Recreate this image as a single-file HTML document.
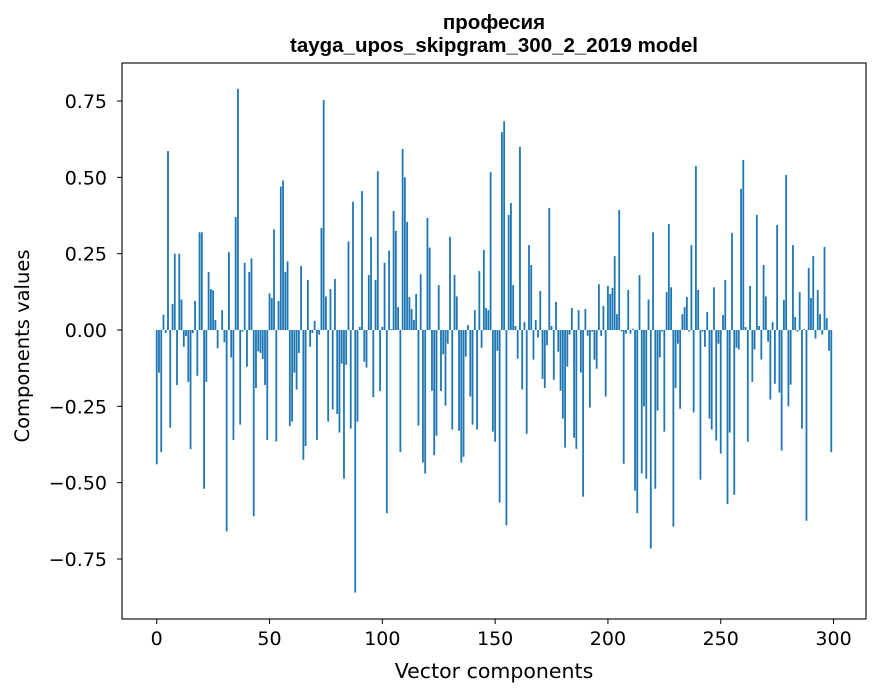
<!DOCTYPE html>
<html><head><meta charset="utf-8"><style>
body{margin:0;background:#fff;}
svg{display:block;font-family:"DejaVu Sans","Liberation Sans",sans-serif;}
</style></head><body>
<svg id="chart" width="880" height="696">
<text x="494" y="29" text-anchor="middle" font-size="20.5" font-weight="bold" font-family="Liberation Sans, sans-serif">професия</text>
<text x="494" y="52" text-anchor="middle" font-size="20.5" font-weight="bold" font-family="Liberation Sans, sans-serif">tayga_upos_skipgram_300_2_2019 model</text>
<g id="bars"></g>
<g id="axes"></g>
<text x="494" y="678" text-anchor="middle" font-size="20.5">Vector components</text>
<text transform="translate(29,346) rotate(-90)" text-anchor="middle" font-size="19.5">Components values</text>
</svg>
<script>
const values = [
-0.44,-0.14,-0.40,0.05,-0.01,0.586,-0.32,0.085,0.25,-0.18,
0.25,0.10,-0.055,-0.02,-0.17,-0.39,-0.01,0.095,-0.15,0.32,
0.32,-0.52,-0.17,0.19,0.134,0.13,0.033,-0.06,0.0,0.065,
-0.04,-0.66,0.255,-0.09,-0.36,0.37,0.79,-0.31,-0.005,0.22,
-0.12,0.19,0.235,-0.61,-0.19,-0.07,-0.075,-0.095,-0.18,-0.36,
0.12,0.105,0.33,-0.365,0.095,0.47,0.49,0.19,0.225,-0.315,
-0.30,-0.14,-0.195,-0.075,0.21,-0.425,-0.38,0.164,-0.055,-0.01,
0.03,-0.36,-0.015,0.334,0.753,0.11,-0.30,0.134,-0.26,0.167,
-0.275,-0.336,-0.11,-0.487,-0.114,0.29,-0.323,0.42,-0.86,-0.30,
0.01,0.455,-0.104,-0.123,0.18,0.305,-0.22,0.164,0.52,-0.20,
0.01,0.22,-0.60,0.26,0.003,0.39,0.325,0.075,-0.40,0.593,
0.50,0.354,0.108,0.069,0.033,0.118,-0.313,0.183,-0.434,-0.47,
0.367,0.27,-0.199,-0.41,-0.346,0.147,-0.20,-0.08,-0.248,-0.045,
0.305,-0.326,0.18,0.11,-0.33,-0.434,-0.415,-0.087,0.016,-0.218,
-0.31,0.065,-0.326,0.193,-0.058,0.262,0.072,0.065,0.517,-0.333,
-0.366,-0.068,-0.565,0.648,0.684,-0.64,0.377,0.416,0.147,0.013,
-0.094,0.60,-0.195,0.026,-0.34,0.278,0.213,-0.097,0.033,-0.025,
0.128,-0.16,-0.19,-0.05,0.40,0.013,-0.163,0.092,-0.071,-0.199,
-0.29,-0.385,-0.12,-0.015,0.072,-0.353,-0.389,0.065,-0.14,-0.546,
0.069,-0.019,-0.254,-0.005,-0.097,-0.127,0.15,-0.019,0.079,-0.218,
0.144,0.118,0.138,0.242,0.052,0.393,-0.005,-0.438,-0.012,0.131,
-0.012,0.004,-0.526,-0.60,0.18,-0.47,-0.25,-0.487,0.10,-0.716,
0.32,-0.52,-0.264,-0.09,-0.005,-0.333,0.124,0.347,0.14,-0.644,
-0.19,-0.045,-0.258,0.052,0.075,0.108,-0.005,0.278,-0.27,0.537,
0.131,-0.49,-0.005,-0.055,0.059,-0.29,-0.326,0.14,-0.362,-0.045,
-0.405,0.049,0.164,-0.57,-0.336,0.318,-0.54,-0.058,-0.064,0.462,
0.557,0.01,-0.366,0.144,-0.17,-0.064,0.377,0.013,-0.097,0.213,
0.11,-0.038,-0.228,0.026,-0.176,0.344,-0.205,-0.395,0.098,0.508,
-0.25,-0.179,0.278,0.043,-0.005,0.124,-0.323,0.003,-0.625,0.203,
0.105,0.242,-0.028,0.131,0.052,-0.015,0.272,0.039,-0.068,-0.40
];
const xTicks = [0,50,100,150,200,250,300];
const yTicks = [-0.75,-0.5,-0.25,0,0.25,0.5,0.75];
const yTickLabels = ["\u22120.75","\u22120.50","\u22120.25","0.00","0.25","0.50","0.75"];

const L=122,R=866,T=63,B=619;
const xMin=-15.39,xMax=314.39,yMin=-0.9466,yMax=0.8746;
const xs=v=>L+(v-xMin)/(xMax-xMin)*(R-L);
const ys=v=>T+(yMax-v)/(yMax-yMin)*(B-T);
const NS="http://www.w3.org/2000/svg";
const bars=document.getElementById('bars');
values.forEach((v,i)=>{
  const r=document.createElementNS(NS,'rect');
  const x0=xs(i-0.4),x1=xs(i+0.4);
  const y0=ys(Math.max(v,0)),y1=ys(Math.min(v,0));
  r.setAttribute('x',x0);r.setAttribute('width',x1-x0);
  r.setAttribute('y',y0);r.setAttribute('height',Math.max(y1-y0,0.01));
  r.setAttribute('fill','#1f77b4');
  
  
  bars.appendChild(r);
});
const axes=document.getElementById('axes');
const frame=document.createElementNS(NS,'rect');
frame.setAttribute('x',L);frame.setAttribute('y',T);
frame.setAttribute('width',R-L);frame.setAttribute('height',B-T);
frame.setAttribute('fill','none');frame.setAttribute('stroke','#000');frame.setAttribute('stroke-width','1.1');


axes.appendChild(frame);
xTicks.forEach(t=>{
  const x=xs(t);
  const l=document.createElementNS(NS,'line');
  l.setAttribute('x1',x);l.setAttribute('x2',x);l.setAttribute('y1',B);l.setAttribute('y2',B+5);
  l.setAttribute('stroke','#000');
  
  
  axes.appendChild(l);
  const tx=document.createElementNS(NS,'text');
  tx.setAttribute('x',x);tx.setAttribute('y',B+26);tx.setAttribute('text-anchor','middle');tx.setAttribute('font-size','19');
  tx.textContent=t;
  
  
  axes.appendChild(tx);
});
yTicks.forEach((t,i)=>{
  const y=ys(t);
  const l=document.createElementNS(NS,'line');
  l.setAttribute('x1',L-5);l.setAttribute('x2',L);l.setAttribute('y1',y);l.setAttribute('y2',y);
  l.setAttribute('stroke','#000');
  
  
  axes.appendChild(l);
  const tx=document.createElementNS(NS,'text');
  tx.setAttribute('x',L-15);tx.setAttribute('y',y+7);tx.setAttribute('text-anchor','end');tx.setAttribute('font-size','19');
  tx.textContent=yTickLabels[i];
  
  
  axes.appendChild(tx);
});
</script>
</body></html>
